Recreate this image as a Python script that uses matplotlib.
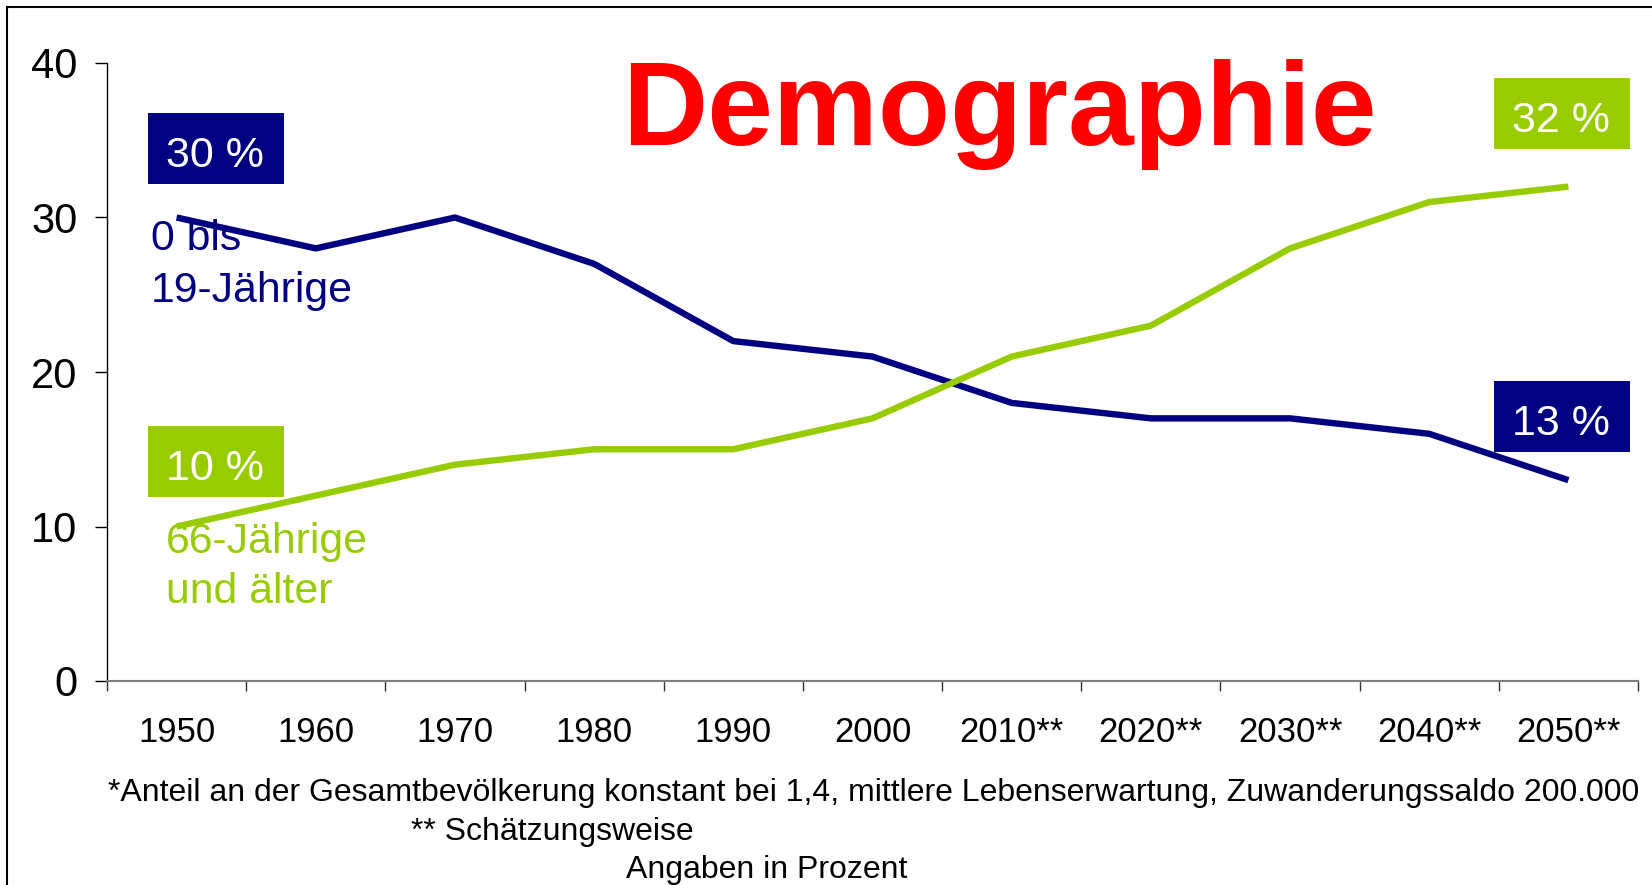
import matplotlib
matplotlib.use('Agg')
import matplotlib.pyplot as plt
from matplotlib import font_manager
from matplotlib.patches import Rectangle
import numpy as np

# ---------------- data ----------------
years = ['1950', '1960', '1970', '1980', '1990', '2000',
         '2010**', '2020**', '2030**', '2040**', '2050**']
young = [30, 28, 30, 27, 22, 21, 18, 17, 17, 16, 13]   # 0 bis 19-Jährige
old = [10, 12, 14, 15, 15, 17, 21, 23, 28, 31, 32]     # 66-Jährige und älter
yticks = [0, 10, 20, 30, 40]
young_label = ['0 bis', '19-Jährige']
old_label = ['66-Jährige', 'und älter']
title = 'Demographie'
footnotes = ['*Anteil an der Gesamtbevölkerung konstant bei 1,4, mittlere Lebenserwartung, Zuwanderungssaldo 200.000',
             '** Schätzungsweise',
             'Angaben in Prozent']

# ---------------- style ----------------
NAVY = '#000080'
GREEN = '#99CC00'
RED = '#FF0000'
avail = {f.name for f in font_manager.fontManager.ttflist}
REG = 'Liberation Sans' if 'Liberation Sans' in avail else 'DejaVu Sans'
NARROW = 'Liberation Sans Narrow' if 'Liberation Sans Narrow' in avail else REG

W, H = 1652, 885
fig = plt.figure(figsize=(W / 100, H / 100), dpi=100)
fig.patch.set_facecolor('white')
renderer = fig.canvas.get_renderer()


def fx(px):
    return px / W


def fy(py):
    return 1 - py / H


def fit_size(txt, family, target_px, base=20.0):
    t = fig.text(0, 0, txt, fontsize=base, family=family)
    w = t.get_window_extent(renderer=renderer).width
    t.remove()
    return base * target_px / w


ax = fig.add_axes([fx(107), fy(681), fx(1638) - fx(107), fy(63) - fy(681)])
x = np.arange(len(years))
ax.plot(x, young, color=NAVY, lw=4.6, solid_capstyle='butt', zorder=3)
ax.plot(x, old, color=GREEN, lw=4.6, solid_capstyle='butt', zorder=4)

ax.set_xlim(-0.5, len(years) - 0.5)
ax.set_ylim(0, 40)
ax.set_yticks(yticks)
ax.set_yticklabels([str(v) for v in yticks], fontsize=30, family=NARROW)
ax.tick_params(axis='y', length=8.4, width=1, color='black', pad=13)
ax.set_xticks(x)
xt_size = min(27, 0.5 * (27 + fit_size('1950', NARROW, 71)))
ax.set_xticklabels(years, fontsize=xt_size, family=NARROW)
ax.set_xticks(np.arange(-0.5, len(years), 1), minor=True)
ax.tick_params(axis='x', which='major', length=0, pad=25.5)
ax.tick_params(axis='x', which='minor', length=7.2, width=1, color='#333333')
for s in ['top', 'right']:
    ax.spines[s].set_visible(False)
ax.spines['left'].set_color('black')
ax.spines['left'].set_linewidth(1)
ax.spines['bottom'].set_color('#808080')
ax.spines['bottom'].set_linewidth(1.5)

# value boxes
boxes = [(148, 113, f'{young[0]} %', NAVY),
         (148, 426, f'{old[0]} %', GREEN),
         (1494, 78, f'{old[-1]} %', GREEN),
         (1494, 381, f'{young[-1]} %', NAVY)]
for bx, by, txt, col in boxes:
    fig.patches.append(Rectangle((fx(bx), fy(by + 71)), fx(136), 71 / H,
                                 transform=fig.transFigure, facecolor=col,
                                 edgecolor='none', zorder=5))
    fig.text(fx(bx + 67), fy(by + 54), txt, ha='center', va='baseline',
             color='white', fontsize=31, family=REG, zorder=6)

# series labels
for i, line in enumerate(young_label):
    fig.text(fx(151), fy(250 + 52 * i), line, ha='left', va='baseline',
             color=NAVY, fontsize=30.8, family=REG, zorder=2)
for i, line in enumerate(old_label):
    fig.text(fx(166), fy(553 + 50 * i), line, ha='left', va='baseline',
             color=GREEN, fontsize=30.8, family=REG, zorder=2)

# title
fig.text(fx(622), fy(145), title, ha='left', va='baseline', color=RED,
         fontsize=85, fontweight='bold', family=REG)

# footnotes
fn_size = min(26, fit_size(footnotes[0], NARROW, 1530))
foot_pos = [(108, 801), (411, 840), (626, 878)]
for (px, py), txt in zip(foot_pos, footnotes):
    fig.text(fx(px), fy(py), txt, ha='left', va='baseline', color='black',
             fontsize=fn_size, family=NARROW)

# frame border (top/left visible)
fig.patches.append(Rectangle((fx(7), -0.2), 1.2, fy(7) + 0.2,
                             transform=fig.transFigure, fill=False,
                             edgecolor='black', linewidth=1.5))

fig.savefig('out.png', dpi=100)
